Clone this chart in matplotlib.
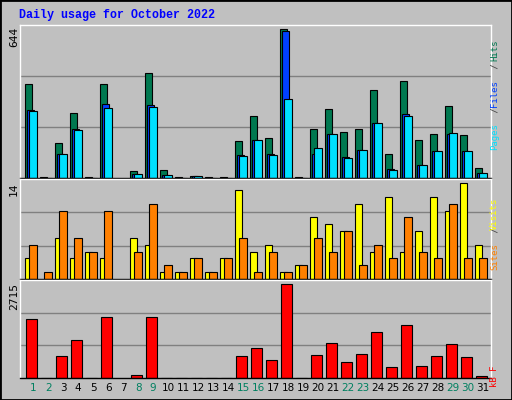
import matplotlib
matplotlib.use("Agg")
import matplotlib.pyplot as plt
import numpy as np

days = list(range(1, 32))
weekend = [1, 2, 8, 9, 15, 16, 22, 23, 29, 30]
hits = [404, 3, 150, 281, 3, 408, 0, 32, 452, 36, 3, 8, 3, 3, 159, 268, 172, 644, 3, 211, 299, 198, 211, 382, 102, 421, 163, 189, 312, 185, 45]
files = [294, 0, 102, 211, 0, 320, 0, 19, 316, 12, 0, 10, 0, 0, 98, 163, 102, 635, 0, 102, 189, 89, 119, 237, 41, 277, 58, 115, 189, 115, 23]
pages = [290, 0, 102, 207, 0, 303, 0, 19, 307, 15, 0, 10, 0, 0, 93, 163, 98, 342, 0, 128, 189, 85, 119, 237, 36, 268, 58, 115, 194, 115, 23]
visits = [3, 0, 6, 3, 4, 3, 0, 6, 5, 1, 1, 3, 1, 3, 13, 4, 5, 1, 2, 9, 8, 7, 11, 4, 12, 4, 7, 12, 10, 14, 5]
sites = [5, 1, 10, 6, 4, 10, 0, 4, 11, 2, 1, 3, 1, 3, 6, 1, 4, 1, 2, 6, 4, 7, 2, 5, 3, 9, 4, 3, 11, 3, 3]
kb = [1705, 10, 634, 1110, 10, 1764, 0, 99, 1764, 10, 10, 10, 10, 10, 634, 872, 515, 2715, 10, 664, 1021, 456, 694, 1318, 307, 1526, 337, 634, 991, 605, 69]

BG = "#c0c0c0"
fig = plt.figure(figsize=(5.12, 4.0), dpi=100, facecolor=BG)
W, H = 512, 400
def ax_at(x0, y0, x1, y1):
    return fig.add_axes([x0 / W, 1 - y1 / H, (x1 - x0) / W, (y1 - y0) / H])

fig.patches.append(plt.Rectangle((0, 0), 1, 1, transform=fig.transFigure, fill=False, ec="black", lw=2))

fig.text(19 / W, 1 - 15 / H, "Daily usage for October 2022", color="#0000ff", family="Liberation Mono",
         fontweight="bold", fontsize=8.4, va="center")

x = np.array(days)
lw = 0.8
X0, X1 = 0.127, 31.53
def style(ax, top):
    ax.set_facecolor(BG)
    ax.set_xlim(X0, X1)
    ax.set_ylim(0, top)
    ax.set_xticks([]); ax.set_yticks([])
    for s in ax.spines.values():
        s.set_color("white"); s.set_linewidth(1)
    ax.spines["bottom"].set_color("black")
    for f in (1 / 3, 2 / 3):
        ax.axhline(top * f, color="#808080", lw=1, zorder=0)

a1 = ax_at(20, 25, 491, 178)
style(a1, 661)
m = np.array([d != 7 for d in days])
a1.bar(x[m] - 0.52, np.array(hits)[m], width=0.48, align="edge", color="#007850", ec="black", lw=lw)
a1.bar(x[m] - 0.40, np.array(files)[m], width=0.48, align="edge", color="#0040ff", ec="black", lw=lw)
a1.bar(x[m] - 0.26, np.array(pages)[m], width=0.5, align="edge", color="#00e0ff", ec="black", lw=lw)

a2 = ax_at(20, 179, 491, 279)
style(a2, 14.6)
v = np.array(visits); s_ = np.array(sites)
a2.bar(x[v > 0] - 0.52, v[v > 0], width=0.48, align="edge", color="#ffff00", ec="black", lw=lw)
a2.bar(x[s_ > 0] - 0.26, s_[s_ > 0], width=0.5, align="edge", color="#ff8000", ec="black", lw=lw)

a3 = ax_at(20, 280, 491, 378)
style(a3, 2830)
a3.bar(x[m] - 0.45, np.array(kb)[m], width=0.69, align="edge", color="#ff0000", ec="black", lw=lw)

fig.text(14 / W, 1 - 27 / H, "644", rotation=90, va="top", ha="center", fontsize=8, family="DejaVu Sans Mono")
fig.text(14 / W, 1 - 182 / H, "14", rotation=90, va="top", ha="center", fontsize=8, family="DejaVu Sans Mono")
fig.text(14 / W, 1 - 283 / H, "2715", rotation=90, va="top", ha="center", fontsize=8, family="DejaVu Sans Mono")

FS = 6.5
ADV = 0.602 * FS * 100 / 72
def vlabel(parts, ybottom):
    y = ybottom
    for t, c in parts:
        fig.text(499 / W, 1 - y / H, t, rotation=90, va="bottom", ha="center", color=c,
                 fontsize=FS, family="DejaVu Sans Mono", rotation_mode="anchor")
        y -= len(t) * ADV
vlabel([("Pages", "#00e0ff"), (" / ", "#404040"), ("Files", "#0040ff"), (" / ", "#404040"), ("Hits", "#007850")], 137)
vlabel([("Sites", "#ff8000"), (" / ", "#404040"), ("Visits", "#ffff00")], 257)
vlabel([("kB F", "#ff0000")], 376)

for d in days:
    a3.text(d, -0.1, str(d), transform=a3.get_xaxis_transform(),
            color="#008060" if d in weekend else "black", fontsize=7.5, ha="center", va="center")

fig.savefig("out.png", dpi=100, facecolor=BG)
